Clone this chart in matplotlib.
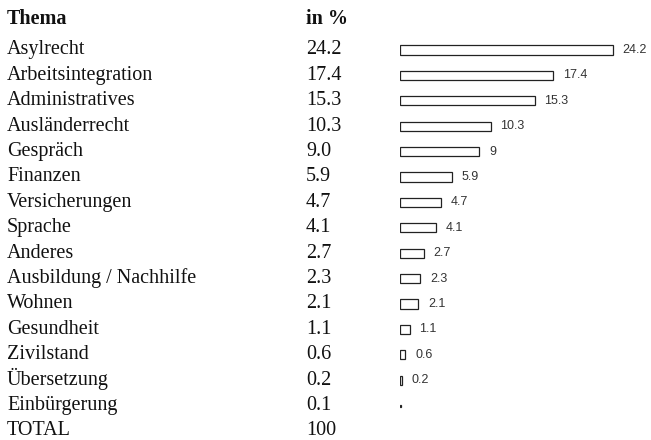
import matplotlib
matplotlib.use("Agg")
import matplotlib.pyplot as plt
from matplotlib.transforms import blended_transform_factory

topics = [
    "Asylrecht", "Arbeitsintegration", "Administratives", "Ausländerrecht",
    "Gespräch", "Finanzen", "Versicherungen", "Sprache", "Anderes",
    "Ausbildung / Nachhilfe", "Wohnen", "Gesundheit", "Zivilstand",
    "Übersetzung", "Einbürgerung",
]
share_text = ["24.2", "17.4", "15.3", "10.3", "9.0", "5.9", "4.7", "4.1",
              "2.7", "2.3", "2.1", "1.1", "0.6", "0.2", "0.1"]
shares = [24.2, 17.4, 15.3, 10.3, 9.0, 5.9, 4.7, 4.1,
          2.7, 2.3, 2.1, 1.1, 0.6, 0.2, 0.1]
header = ["Thema", "in %"]
total_label = "TOTAL"
total_value = "100"

W, H = 651, 440
fig = plt.figure(figsize=(W / 100, H / 100), dpi=100)

# bar axes: 8.8 px per percent, rows 25.4 px apart, first row centred at y=50
step, first = 25.4, 50
ax = fig.add_axes([400 / W, 0, 28 * 8.8 / W, 1])
ax.set_xlim(0, 28)
ax.set_ylim((H - first) / step, -first / step)
ax.axis("off")

rows = list(range(len(topics)))
heights = [0.36 if v >= 0.2 else 0.08 for v in shares]
ax.barh(rows, shares, height=heights, left=0, color="white",
        edgecolor="#222222", linewidth=0.9)
for r, v in zip(rows, shares):
    if v < 0.2:
        continue
    ax.annotate(f"{v:g}", (v, r), xytext=(7, 0), textcoords="offset points",
                va="center", ha="left", fontsize=9, color="#333333",
                family="Liberation Sans")

tr = blended_transform_factory(fig.transFigure, ax.transData)
serif = dict(family="Liberation Serif", fontsize=14.5, color="#111111",
             va="baseline", transform=tr)
x_topic, x_val = 7 / W, 306 / W
off = 0.17

fig.text(x_topic, -1 - 0.2 + off, header[0], fontweight="bold", **serif)
fig.text(x_val, -1 - 0.2 + off, header[1], fontweight="bold", **serif)
for r, (t, s) in enumerate(zip(topics, share_text)):
    fig.text(x_topic, r + off, t, **serif)
    fig.text(x_val, r + off, s, **serif)
n = len(topics)
fig.text(x_topic, n + off, total_label, **serif)
fig.text(x_val, n + off, total_value, **serif)

fig.savefig("out.png", dpi=100, facecolor="white")
